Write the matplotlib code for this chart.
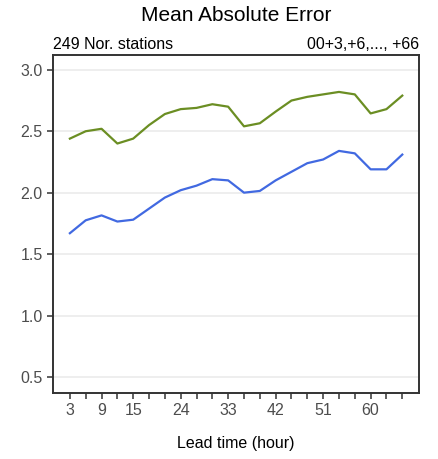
import matplotlib.pyplot as plt

plt.rcParams['font.family'] = ['Liberation Sans', 'DejaVu Sans']

# lead times (hours)
lead = [3, 6, 9, 12, 15, 18, 21, 24, 27, 30, 33, 36, 39, 42, 45, 48, 51, 54, 57, 60, 63, 66]
mae_green = [2.44, 2.50, 2.52, 2.40, 2.44, 2.55, 2.64, 2.68, 2.69, 2.72, 2.70,
             2.54, 2.565, 2.66, 2.75, 2.78, 2.80, 2.82, 2.80, 2.645, 2.68, 2.79]
mae_blue = [1.67, 1.775, 1.815, 1.765, 1.78, 1.87, 1.96, 2.02, 2.057, 2.11, 2.10,
            2.00, 2.014, 2.10, 2.17, 2.24, 2.27, 2.34, 2.32, 2.19, 2.19, 2.31]
xlabels = [3, 9, 15, 24, 33, 42, 51, 60]
yticks = [0.5, 1.0, 1.5, 2.0, 2.5, 3.0]

fig = plt.figure(figsize=(4.38, 4.59), dpi=100)
ax = fig.add_axes([0.121, 0.144, 0.836, 0.736])

ax.plot(lead, mae_green, color='#6B8E23', lw=1.6)
ax.plot(lead, mae_blue, color='#4169E1', lw=1.6)

ax.set_xlim(-0.2, 69.2)
ax.set_ylim(0.37, 3.12)
ax.set_yticks(yticks)
ax.set_yticklabels([f'{v:.1f}' for v in yticks])
ax.set_xticks(xlabels)
ax.set_xticks(lead, minor=True)
ax.grid(axis='y', color='#EBEBEB', lw=1.2)
ax.set_axisbelow(True)

for s in ax.spines.values():
    s.set_color('#333333')
    s.set_linewidth(1.4)
ax.tick_params(axis='both', which='both', color='#333333', width=1.1, length=4.5,
               labelsize=11.5, labelcolor='#4D4D4D', pad=3)

ax.set_xlabel('Lead time (hour)', fontsize=11.5, labelpad=13)
fig.text(0.539, 0.967, 'Mean Absolute Error', ha='center', va='center', fontsize=15)
ax.text(0, 1.008, '249 Nor. stations', transform=ax.transAxes, ha='left', va='bottom', fontsize=11.5)
ax.text(1, 1.008, '00+3,+6,..., +66', transform=ax.transAxes, ha='right', va='bottom', fontsize=11.5)

fig.savefig('out.png', dpi=100)
